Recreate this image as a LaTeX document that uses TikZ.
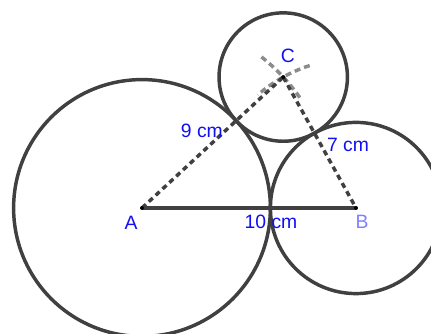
\documentclass[tikz,border=0pt]{standalone}
\usepackage{fontspec}
\setmainfont{Liberation Sans}
\usetikzlibrary{positioning,calc}
\definecolor{ink}{HTML}{404040}
\definecolor{arcgray}{HTML}{8C8C8C}
\definecolor{lblue}{HTML}{1010F0}
\definecolor{pblue}{HTML}{8080FF}

\begin{document}
\begin{tikzpicture}[x=16.05pt,y=16.05pt,font=\fontsize{14.5}{17}\selectfont,
  circ/.style={draw=ink,line width=2.6pt},
  seg/.style={draw=ink,line width=2.6pt},
  dseg/.style={draw=ink,line width=2.6pt,dash pattern=on 4pt off 3pt},
  cmp/.style={draw=arcgray,line width=2.6pt,dash pattern=on 4.5pt off 3pt},
  lbl/.style={text=lblue,inner sep=0pt},
  pt/.style={circle,fill=black,inner sep=0pt,minimum size=3pt}]
\useasboundingbox (-6.636,-5.888) rectangle (13.505,9.720);
\clip (-6.636,-5.888) rectangle (13.505,9.720);
\coordinate (A) at (0,0);
\coordinate (B) at (10,0);
\coordinate (C) at (6.6,6.119);
% tangent circles, radii 6, 4, 3
\draw[circ] (A) circle (6);
\draw[circ] (B) circle (4);
\draw[circ] (C) circle (3);
% compass marks
\draw[cmp] ($(A)+(35:9)$) arc[start angle=35,end angle=52,radius=9];
\draw[cmp] ($(B)+(108:7)$) arc[start angle=108,end angle=131,radius=7];
\draw[seg] (A) -- (B);
\draw[dseg] (A) -- (C);
\draw[dseg] (C) -- (B);
\node[pt] (pA) at (A) {};
\node[pt] (pB) at (B) {};
\node[pt] (pC) at (C) {};
\node[lbl] (lA) at (-0.51,-0.70) {A};
\node[lbl,text=pblue] (lB) at (10.28,-0.65) {B};
\node[lbl] (lC) at (6.82,7.10) {C};
\node[lbl] (lAC) at (2.80,3.60) {9 cm};
\node[lbl] (lBC) at (9.63,2.94) {7 cm};
\node[lbl] (lAB) at (6.03,-0.65) {10 cm};
\end{tikzpicture}
\end{document}
